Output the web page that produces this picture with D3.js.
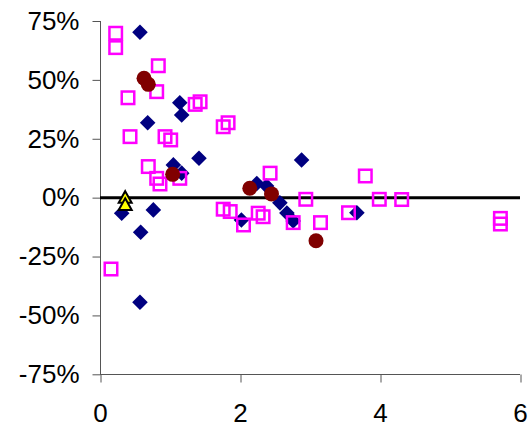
<!DOCTYPE html>
<html>
<head>
<meta charset="utf-8">
<script src="https://cdn.jsdelivr.net/npm/d3@7"></script>
<style>
  html, body { margin: 0; padding: 0; background: #fff; }
  svg { display: block; }
  .axis text { font-family: Arial, "Liberation Sans", sans-serif; font-size: 26px; fill: #000; }
</style>
</head>
<body>
<svg id="chart" width="529" height="422"></svg>
<script>
// ---- Data (x value, y value in %) ----
const navyX = [0.571, 1.14, 1.167, 0.681, 1.414, 1.048, 1.167, 2.88, 2.24, 2.38, 2.57, 2.67, 2.76, 3.67, 2.02, 0.31, 0.762, 0.581, 0.571];
const navyY = [70.2, 40.3, 35.1, 31.8, 16.7, 13.9, 10.4, 16.0, 6.0, 4.9, -2.2, -6.5, -9.9, -6.4, -9.5, -6.6, -5.2, -14.7, -44.4];

const magentaX = [0.224, 0.224, 0.833, 0.40, 0.81, 1.36, 1.43, 0.429, 0.929, 1.01, 0.69, 0.81, 0.857, 1.14, 1.76, 1.83, 2.43, 3.79, 2.94, 3.99, 4.31, 1.76, 1.86, 2.05, 2.26, 2.33, 2.76, 3.15, 3.55, 5.72, 5.72, 0.157];
const magentaY = [69.8, 63.7, 56.0, 42.4, 45.0, 39.6, 40.7, 25.9, 25.9, 24.5, 13.2, 8.2, 5.8, 8.2, 30.1, 31.8, 10.4, 9.2, -0.7, -0.7, -0.8, -4.9, -5.9, -11.6, -6.6, -8.1, -10.6, -10.6, -6.4, -8.8, -11.2, -30.3];

const redX = [0.629, 0.69, 1.038, 2.14, 2.45, 3.086];
const redY = [50.7, 48.1, 9.9, 4.0, 1.6, -18.3];

const yellowX = [0.36, 0.36];
const yellowY = [0, -3];

const xTicks = [0, 2, 4, 6];
const yTicks = [-75, -50, -25, 0, 25, 50, 75];

// ---- Layout ----
const svg = d3.select("#chart");
const x = d3.scaleLinear().domain([0, 6]).range([100, 520]);
const y = d3.scaleLinear().domain([-75, 75]).range([374.3, 21]);

const zip = (xs, ys) => xs.map((v, i) => [v, ys[i]]);

// Axes
const yAxis = d3.axisLeft(y).tickValues(yTicks).tickFormat(d => d + "%").tickSize(8).tickPadding(13);
const xAxis = d3.axisBottom(x).tickValues(xTicks).tickFormat(d => d).tickSize(8).tickPadding(21);

const gy = svg.append("g").attr("class", "axis").attr("transform", "translate(100.5,0)").call(yAxis);
const gx = svg.append("g").attr("class", "axis").attr("transform", "translate(0,374.5)").call(xAxis);
[gy, gx].forEach(g => {
  g.selectAll("path.domain").attr("stroke", "#555").attr("stroke-width", 1);
  g.selectAll(".tick line").attr("stroke", "#555").attr("stroke-width", 1);
});
gy.select("path.domain").attr("d", `M0,${y(75)}V${y(-75)}`);
gx.select("path.domain").attr("d", `M${x(0)},0H${x(6)}`);
gx.selectAll(".tick line").attr("transform", "translate(0.5,0)");

// Zero line
svg.append("line")
  .attr("x1", x(0)).attr("x2", x(6))
  .attr("y1", y(0)).attr("y2", y(0))
  .attr("stroke", "#000").attr("stroke-width", 3);

// Navy diamonds
const dsize = 7.8;
svg.append("g").selectAll("path").data(zip(navyX, navyY)).join("path")
  .attr("d", d => {
    const cx = x(d[0]), cy = y(d[1]);
    return `M${cx},${cy - dsize}L${cx + dsize},${cy}L${cx},${cy + dsize}L${cx - dsize},${cy}Z`;
  })
  .attr("fill", "#000080");

// Magenta hollow squares
const ss = 12.5;
svg.append("g").selectAll("rect").data(zip(magentaX, magentaY)).join("rect")
  .attr("x", d => x(d[0]) - ss / 2)
  .attr("y", d => y(d[1]) - ss / 2)
  .attr("width", ss).attr("height", ss)
  .attr("fill", "none")
  .attr("stroke", "#FF00FF")
  .attr("stroke-width", 2.5);

// Dark red circles
svg.append("g").selectAll("circle").data(zip(redX, redY)).join("circle")
  .attr("cx", d => x(d[0]))
  .attr("cy", d => y(d[1]))
  .attr("r", 7.5)
  .attr("fill", "#800000");

// Yellow triangles
const ts = 6.5;
svg.append("g").selectAll("path").data(zip(yellowX, yellowY)).join("path")
  .attr("d", d => {
    const cx = x(d[0]), cy = y(d[1]);
    return `M${cx},${cy - ts}L${cx + ts},${cy + ts * 0.8}L${cx - ts},${cy + ts * 0.8}Z`;
  })
  .attr("fill", "#FFFF00")
  .attr("stroke", "#000")
  .attr("stroke-width", 2)
  .attr("stroke-linejoin", "miter");
</script>
</body>
</html>
